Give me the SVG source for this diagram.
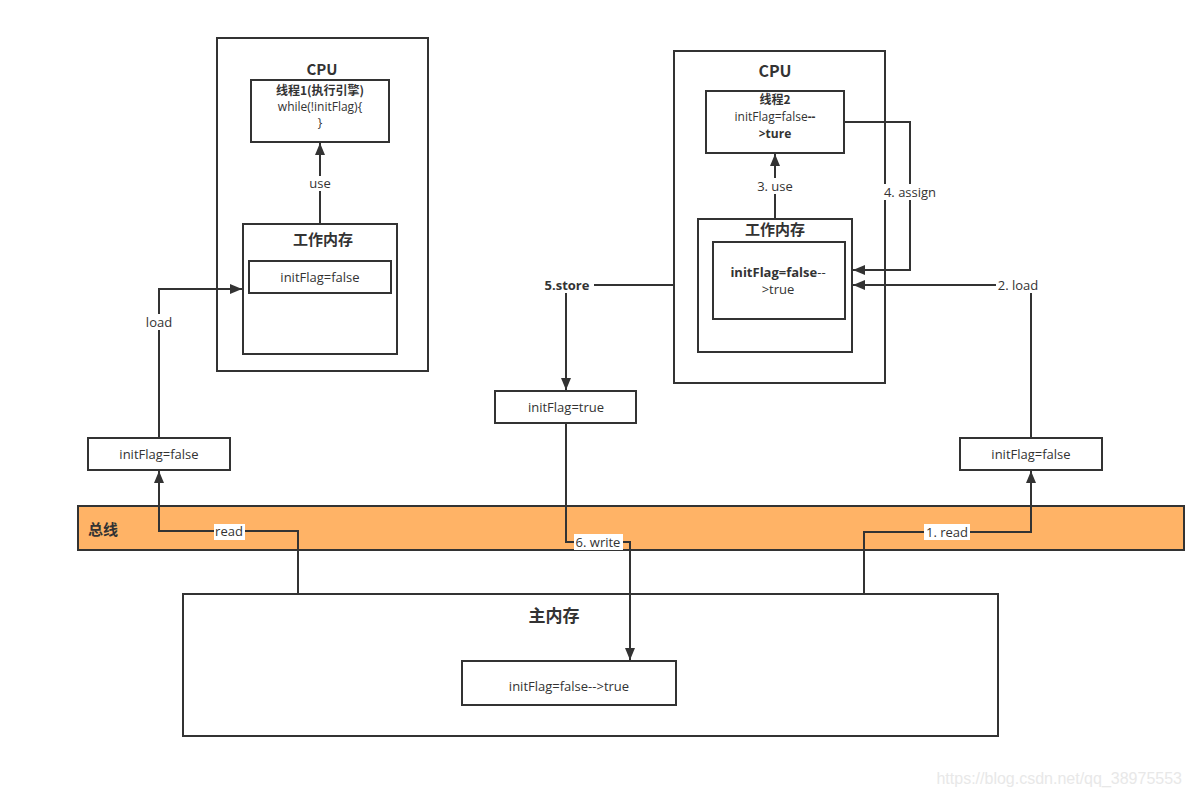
<svg xmlns="http://www.w3.org/2000/svg" width="1192" height="797" viewBox="0 0 1192 797">
<style>
.box{fill:#fff;stroke:#333;stroke-width:2}
.ln{fill:none;stroke:#333;stroke-width:2}
.t{font-family:"Open Sans","Noto Sans CJK SC",sans-serif;font-size:13px;fill:#333;text-anchor:middle}
.s{font-size:12px}
.b{font-weight:bold}
.h{font-family:"Noto Sans CJK SC","Open Sans",sans-serif;font-weight:bold;fill:#333;text-anchor:middle}
.lb{fill:#fff}
</style>
<defs>
<marker id="ar" markerUnits="userSpaceOnUse" markerWidth="12" markerHeight="10" viewBox="0 0 12 10" refX="12" refY="5" orient="auto">
<path d="M0,0 L12,5 L0,10 Z" fill="#333"/>
</marker>
</defs>
<rect width="1192" height="797" fill="#fff"/>

<g id="bus">
<rect x="78" y="506" width="1106" height="44" fill="#FFB366" stroke="#333" stroke-width="2"/>
<text x="88" y="535" class="h" style="text-anchor:start;font-size:15px">总线</text>
</g>

<g id="cpu1">
<rect class="box" x="217" y="38" width="211" height="333"/>
<text x="322" y="75" class="h" style="font-size:15px">CPU</text>
</g>
<g id="thread1">
<rect class="box" x="251" y="80" width="138" height="62"/>
<text x="320" y="95" class="h" style="font-size:12px">线程1(执行引擎)</text>
<text x="320" y="111" class="t s">while(!initFlag){</text>
<text x="320" y="127" class="t s">}</text>
</g>
<g id="wm1">
<rect class="box" x="243" y="224" width="154" height="130"/>
<text x="323" y="245" class="h" style="font-size:15px">工作内存</text>
<rect class="box" x="249" y="261" width="142" height="32"/>
<text x="320" y="282" class="t">initFlag=false</text>
</g>

<g id="cpu2">
<rect class="box" x="674" y="51" width="211" height="332"/>
<text x="775" y="77" class="h" style="font-size:16px">CPU</text>
</g>
<g id="thread2">
<rect class="box" x="706" y="91" width="138" height="62"/>
<text x="775" y="104" class="h" style="font-size:12px">线程2</text>
<text x="775" y="121" class="t s">initFlag=false<tspan class="b">--</tspan></text>
<text x="775" y="138" class="t s b">&gt;ture</text>
</g>
<g id="wm2">
<rect class="box" x="698" y="219" width="154" height="133"/>
<text x="775" y="235" class="h" style="font-size:15px">工作内存</text>
<rect class="box" x="713" y="242" width="132" height="77"/>
<text x="778" y="277" class="t"><tspan class="b">initFlag=false</tspan>--</text>
<text x="778" y="294" class="t">&gt;true</text>
</g>

<g id="v1">
<rect class="box" x="88" y="438" width="142" height="32"/>
<text x="159" y="459" class="t">initFlag=false</text>
</g>
<g id="v2">
<rect class="box" x="960" y="438" width="142" height="32"/>
<text x="1031" y="459" class="t">initFlag=false</text>
</g>
<g id="v3">
<rect class="box" x="495" y="391" width="141" height="32"/>
<text x="566" y="412" class="t">initFlag=true</text>
</g>

<g id="mainmem">
<rect class="box" x="183" y="594" width="815" height="142"/>
<text x="554" y="622" class="h" style="font-size:17px">主内存</text>
<rect class="box" x="462" y="661" width="214" height="44"/>
<text x="569" y="691" class="t">initFlag=false--&gt;true</text>
</g>

<g id="connectors">
<path class="ln" d="M320,224 V143" marker-end="url(#ar)"/>
<rect class="lb" x="305" y="176" width="30" height="15"/>
<text x="320" y="188" class="t">use</text>

<path class="ln" d="M159,438 V289 H242" marker-end="url(#ar)"/>
<rect class="lb" x="143" y="314" width="32" height="16"/>
<text x="159" y="327" class="t">load</text>

<path class="ln" d="M298,593 V531 H159 V471" marker-end="url(#ar)"/>
<rect class="lb" x="214" y="524" width="31" height="16"/>
<text x="229" y="536" class="t">read</text>

<path class="ln" d="M775,218 V154" marker-end="url(#ar)"/>
<rect class="lb" x="754" y="178" width="42" height="16"/>
<text x="775" y="191" class="t">3. use</text>

<path class="ln" d="M845,122 H910 V270 H853" marker-end="url(#ar)"/>
<rect class="lb" x="880" y="184" width="60" height="16"/>
<text x="910" y="197" class="t">4. assign</text>

<path class="ln" d="M1031,438 V285 H853" marker-end="url(#ar)"/>
<rect class="lb" x="996" y="277" width="44" height="16"/>
<text x="1018" y="290" class="t">2. load</text>

<path class="ln" d="M864,593 V532 H1031 V471" marker-end="url(#ar)"/>
<rect class="lb" x="924" y="524" width="46" height="16"/>
<text x="947" y="537" class="t">1. read</text>

<path class="ln" d="M674,285 H566 V390" marker-end="url(#ar)"/>
<rect class="lb" x="540" y="277" width="54" height="16"/>
<text x="567" y="290" class="t b">5.store</text>

<path class="ln" d="M566,423 V542 H630 V660" marker-end="url(#ar)"/>
<rect class="lb" x="574" y="534" width="49" height="16"/>
<text x="598" y="547" class="t">6. write</text>
</g>

<text x="1182" y="784" style="font-family:'Liberation Sans',sans-serif;font-size:16px;fill:#e8e8e8;text-anchor:end">https://blog.csdn.net/qq_38975553</text>
</svg>
